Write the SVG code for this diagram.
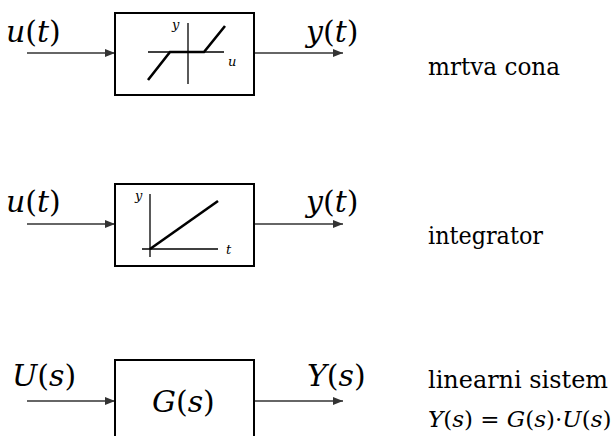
<svg xmlns="http://www.w3.org/2000/svg" width="616" height="436" viewBox="0 0 616 436">
<style>
.box{fill:#fff;stroke:#000;stroke-width:2}
.ax{stroke:#000;stroke-width:1.3;fill:none}
.cv{stroke:#000;stroke-width:2.6;fill:none}
text{font-family:"DejaVu Serif","Liberation Serif",serif;fill:#000}
.sig{font-style:italic;font-size:30px}
.par{font-style:normal}
.lbl{font-size:25px}
.sm{font-style:italic;font-size:13px}
.con{stroke:#333;stroke-width:1.5;fill:none}
</style>
<defs>
<marker id="ah" viewBox="0 0 10 8" refX="10" refY="4" markerWidth="10" markerHeight="8" markerUnits="userSpaceOnUse" orient="auto">
<path d="M0,0 L10,4 L0,8 Z" fill="#333"/>
</marker>
</defs>
<g id="connectors">
<line class="con" x1="27" y1="53" x2="115" y2="53" marker-end="url(#ah)"/>
<line class="con" x1="254" y1="53" x2="343" y2="53" marker-end="url(#ah)"/>
<line class="con" x1="27" y1="224" x2="115" y2="224" marker-end="url(#ah)"/>
<line class="con" x1="254" y1="224" x2="343" y2="224" marker-end="url(#ah)"/>
<line class="con" x1="27" y1="401" x2="115" y2="401" marker-end="url(#ah)"/>
<line class="con" x1="255" y1="401" x2="343" y2="401" marker-end="url(#ah)"/>
</g>
<g id="deadzone">
<rect class="box" x="115" y="13" width="139" height="82"/>
<line class="ax" x1="188" y1="23" x2="188" y2="84"/>
<line class="ax" x1="148" y1="52" x2="224" y2="52"/>
<polyline class="cv" points="148,80 170,52 204,52 225,26"/>
<text class="sm" x="172" y="29">y</text>
<text class="sm" x="228" y="66">u</text>
</g>
<g id="integrator">
<rect class="box" x="115" y="184" width="139" height="82"/>
<line class="ax" x1="150" y1="194" x2="150" y2="257"/>
<line class="ax" x1="142" y1="249" x2="218" y2="249"/>
<line class="cv" x1="150" y1="249" x2="218" y2="201"/>
<text class="sm" x="135" y="200">y</text>
<text class="sm" x="226" y="254">t</text>
</g>
<g id="linear">
<rect class="box" x="115" y="360" width="139" height="90"/>
<text class="sig" x="152" y="412">G<tspan class="par">(</tspan>s<tspan class="par">)</tspan></text>
</g>
<g id="labels">
<text class="sig" x="6" y="42">u<tspan class="par">(</tspan>t<tspan class="par">)</tspan></text>
<text class="sig" x="306" y="42">y<tspan class="par">(</tspan>t<tspan class="par">)</tspan></text>
<text class="sig" x="6" y="212">u<tspan class="par">(</tspan>t<tspan class="par">)</tspan></text>
<text class="sig" x="306" y="212">y<tspan class="par">(</tspan>t<tspan class="par">)</tspan></text>
<text class="sig" x="12" y="386">U<tspan class="par">(</tspan>s<tspan class="par">)</tspan></text>
<text class="sig" x="307" y="386">Y<tspan class="par">(</tspan>s<tspan class="par">)</tspan></text>
<text class="lbl" x="428" y="75" textLength="132" lengthAdjust="spacingAndGlyphs">mrtva cona</text>
<text class="lbl" x="428" y="244" textLength="115" lengthAdjust="spacingAndGlyphs">integrator</text>
<text class="lbl" x="428" y="388" textLength="180" lengthAdjust="spacingAndGlyphs">linearni sistem</text>
<text class="sig" x="428" y="427" style="font-size:23px">Y<tspan class="par">(</tspan>s<tspan class="par">) = </tspan>G<tspan class="par">(</tspan>s<tspan class="par">)·</tspan>U<tspan class="par">(</tspan>s<tspan class="par">)</tspan></text>
</g>
</svg>
